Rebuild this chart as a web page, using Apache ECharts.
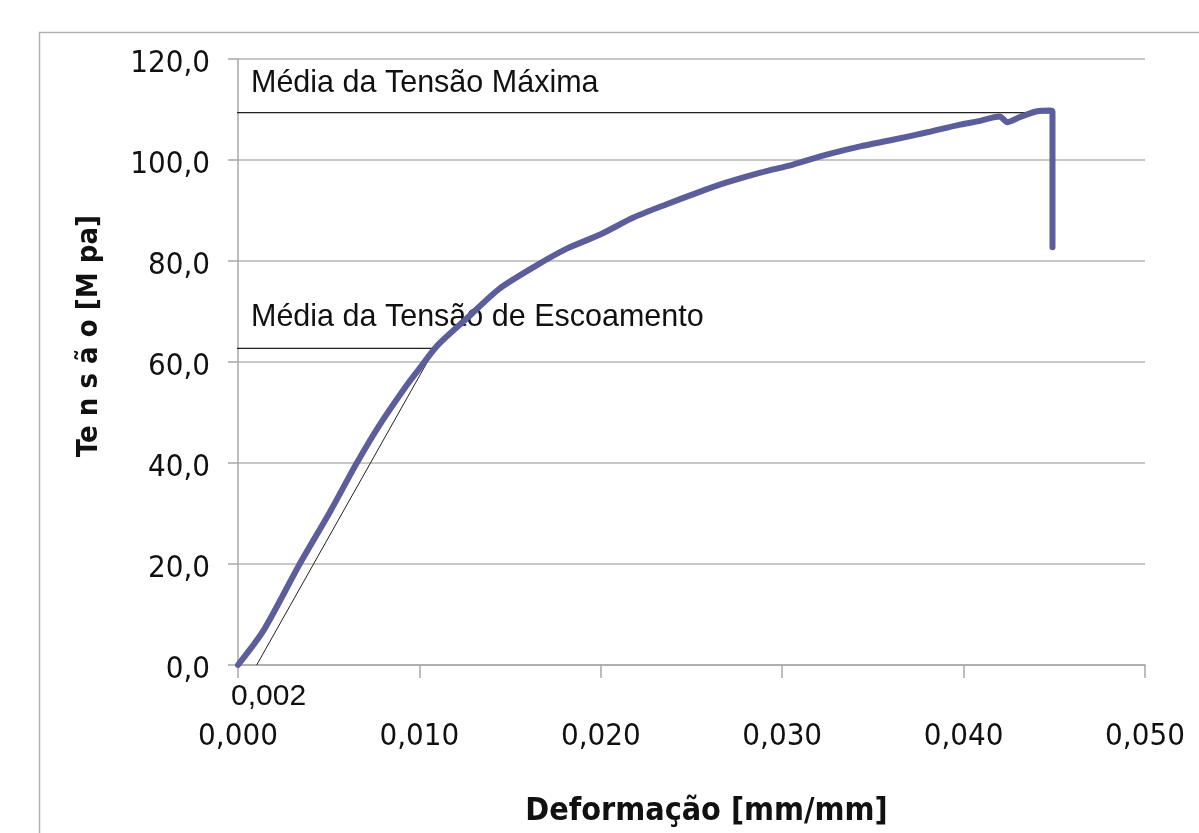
<!DOCTYPE html>
<html>
<head>
<meta charset="utf-8">
<script src="https://cdn.jsdelivr.net/npm/echarts@6/dist/echarts.min.js"></script>
<style>
html,body{margin:0;padding:0;background:#fff;}
#c{width:1199px;height:833px;}
</style>
</head>
<body>
<div id="c"></div>
<script>
// Stress-strain curve
const strain = [0, 0.0014, 0.0034, 0.0051, 0.0065, 0.0078, 0.0093, 0.0100, 0.0110, 0.0126, 0.0144, 0.0163, 0.0181, 0.0200, 0.0218, 0.0236, 0.0253, 0.0269, 0.0288, 0.0306, 0.0325, 0.0343, 0.0361, 0.0380, 0.0398, 0.0407, 0.0420, 0.0424, 0.0431, 0.0440, 0.0448, 0.0449, 0.0449];
const stress = [0, 6.8, 20.0, 30.5, 39.7, 47.5, 55.4, 58.7, 63.3, 68.6, 74.5, 78.8, 82.4, 85.3, 88.6, 91.2, 93.5, 95.5, 97.5, 99.1, 101.1, 102.7, 104.0, 105.5, 107.0, 107.6, 108.6, 107.5, 108.5, 109.6, 109.8, 109.6, 82.7];
// 0.2% offset line
const offsetStrain = [0.00103, 0.01086];
const offsetStress = [0, 62.7];
// Average yield stress line
const yieldStrain = [-0.00105, 0.01086];
const yieldStress = [62.7, 62.7];
// Average maximum stress line
const maxStrain = [-0.00055, 0.0449];
const maxStress = [109.4, 109.4];
// Axis ticks
const xTicks = [0, 0.01, 0.02, 0.03, 0.04, 0.05];
const yTicks = [0, 20, 40, 60, 80, 100, 120];

const labels = {
  max: 'Média da Tensão Máxima',
  yield: 'Média da Tensão de Escoamento',
  offset: '0,002',
  xName: 'Deformação [mm/mm]',
  yName: 'Te n s ã o [M pa]'
};

const zip = (a, b) => a.map((v, i) => [v, b[i]]);
const narrow = '"Liberation Sans Narrow", "DejaVu Sans Condensed", sans-serif';
const sans = '"Liberation Sans", Arial, sans-serif';

const chart = echarts.init(document.getElementById('c'), null, {renderer: 'canvas'});
chart.setOption({
  backgroundColor: '#fff',
  animation: false,
  grid: {left: 238, right: 54, top: 59, bottom: 165, containLabel: false},
  xAxis: {
    type: 'value',
    min: xTicks[0], max: xTicks[xTicks.length - 1], interval: 0.01,
    axisLine: {show: true, lineStyle: {color: '#a8a8a8', width: 1.5}},
    axisTick: {show: true, length: 13, lineStyle: {color: '#a8a8a8', width: 1.5}},
    splitLine: {show: false},
    axisLabel: {
      margin: 56, color: '#111', fontFamily: narrow, fontSize: 31,
      formatter: v => v.toFixed(3).replace('.', ',')
    },
    name: labels.xName, nameLocation: 'middle', nameGap: 131,
    nameTextStyle: {fontFamily: narrow, fontWeight: 'bold', fontSize: 32, color: '#111', padding: [0, 0, 0, 30]}
  },
  yAxis: {
    type: 'value',
    min: yTicks[0], max: yTicks[yTicks.length - 1], interval: 20,
    axisLine: {show: true, lineStyle: {color: '#a8a8a8', width: 1.5}},
    axisTick: {show: true, length: 10, lineStyle: {color: '#a8a8a8', width: 1.5}},
    splitLine: {show: true, lineStyle: {color: '#b4b4b4', width: 1.5}},
    axisLabel: {
      margin: 28, color: '#111',
      formatter: v => '{v|' + v.toFixed(1).replace('.', ',') + '}',
      rich: {v: {fontFamily: narrow, fontSize: 31, color: '#111', padding: [9, 0, 0, 0]}}
    },
    name: labels.yName, nameLocation: 'middle', nameGap: 134, nameRotate: 90,
    nameTextStyle: {fontFamily: narrow, fontWeight: 'bold', fontSize: 29, color: '#111', padding: [0, 0, 0, 52]}
  },
  series: [
    {
      type: 'line', data: zip(maxStrain, maxStress), symbol: 'none', clip: false, silent: true,
      lineStyle: {color: '#222', width: 1.2}, z: 3
    },
    {
      type: 'line', data: zip(yieldStrain, yieldStress), symbol: 'none', clip: false, silent: true,
      lineStyle: {color: '#222', width: 1.2}, z: 3
    },
    {
      type: 'line', data: zip(offsetStrain, offsetStress), symbol: 'none', clip: false, silent: true,
      lineStyle: {color: '#222', width: 1}, z: 3
    },
    {
      type: 'line', data: zip(strain, stress), symbol: 'none', clip: false, silent: true, smooth: 0.25,
      lineStyle: {color: '#5b5e9b', width: 6, join: 'round', cap: 'round'}, z: 4
    }
  ],
  graphic: [
    {type: 'rect', left: 37, top: 30, shape: {width: 1300, height: 900}, style: {fill: 'none', stroke: '#b0b0b0', lineWidth: 1.5}, silent: true, z: -1},
    {type: 'text', left: 251, top: 68, style: {text: labels.max, font: '30.5px ' + sans, fill: '#111'}},
    {type: 'text', left: 251, top: 302, style: {text: labels.yield, font: '30.5px ' + sans, fill: '#111'}},
    {type: 'text', left: 231, top: 682, style: {text: labels.offset, font: '30px ' + sans, fill: '#111'}}
  ]
});
</script>
</body>
</html>
